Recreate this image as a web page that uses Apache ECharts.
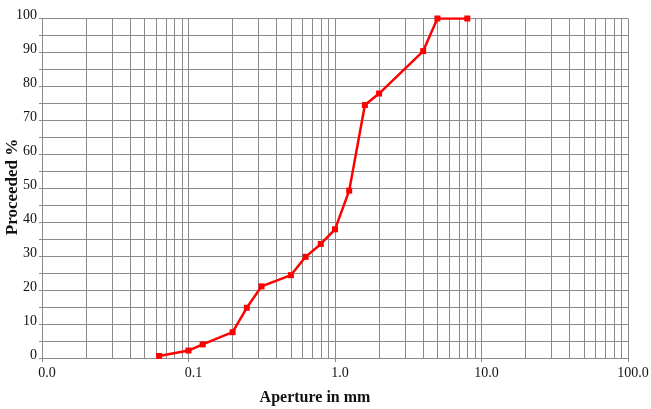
<!DOCTYPE html>
<html>
<head>
<meta charset="utf-8">
<script src="https://cdn.jsdelivr.net/npm/echarts@6/dist/echarts.min.js"></script>
<style>
  html, body { margin: 0; padding: 0; background: #fff; }
  #chart { width: 651px; height: 409px; }
</style>
</head>
<body>
<div id="chart"></div>
<script>
// Sieve apertures (mm) and cumulative percentage passing
const apertures = [0.063, 0.1, 0.125, 0.2, 0.25, 0.315, 0.5, 0.63, 0.8, 1, 1.25, 1.6, 2, 4, 5, 8];
const passing   = [0.6, 2.2, 4.0, 7.6, 14.8, 21.1, 24.4, 29.8, 33.6, 37.9, 49.3, 74.5, 77.9, 90.4, 100, 100];

// Axis titles
const xTitle = 'Aperture in mm';
const yTitle = 'Proceeded %';

// Intermediate log-decade grid positions (2..9 within each decade)
const decades = [0.01, 0.1, 1, 10];
const multipliers = [2, 3, 4, 5, 6, 7, 8, 9];
const minorGrid = [];
decades.forEach(d => multipliers.forEach(m => minorGrid.push(+(d * m).toPrecision(3))));

const serif = '"Liberation Serif", "Times New Roman", serif';
const gridColor = '#8a8a8a';

const chart = echarts.init(document.getElementById('chart'));
chart.setOption({
  animation: false,
  grid: {
    left: 42, right: 23, top: 18.5, bottom: 51,
    containLabel: false,
    outerBoundsMode: 'none'
  },
  graphic: [
    {
      type: 'text', x: 315, y: 398,
      style: { text: xTitle, font: 'bold 16px ' + serif, fill: '#111', align: 'center', verticalAlign: 'middle' }
    },
    {
      type: 'text', x: 13, y: 187, rotation: Math.PI / 2,
      style: { text: yTitle, font: 'bold 17px ' + serif, fill: '#111', align: 'center', verticalAlign: 'middle' }
    }
  ],
  xAxis: {
    type: 'log',
    logBase: 10,
    min: 0.01,
    max: 100,
    axisLine: { lineStyle: { color: gridColor } },
    axisTick: { show: true, length: 4, lineStyle: { color: gridColor } },
    axisLabel: {
      fontFamily: serif, fontSize: 14, color: '#111', margin: 8,
      padding: [0, 0, 0, 10],
      showMaxLabel: true, showMinLabel: true,
      formatter: v => Number(v).toFixed(1)
    },
    splitLine: { show: true, lineStyle: { color: gridColor, width: 1 } }
  },
  yAxis: {
    type: 'value',
    min: 0,
    max: 100,
    interval: 5,
    axisLine: { show: true, lineStyle: { color: gridColor } },
    axisTick: { show: true, length: 3, lineStyle: { color: gridColor } },
    axisLabel: {
      fontFamily: serif, fontSize: 14, color: '#111', margin: 5,
      verticalAlign: 'bottom',
      lineHeight: 6,
      formatter: v => (v % 10 === 0 ? String(v) : '')
    },
    splitLine: { show: true, lineStyle: { color: gridColor, width: 1 } }
  },
  series: [{
    type: 'line',
    data: apertures.map((a, i) => [a, passing[i]]),
    color: '#ff0000',
    lineStyle: { color: '#ff0000', width: 2.5 },
    symbol: 'rect',
    symbolSize: 6,
    itemStyle: { color: '#ff0000' },
    z: 5,
    markLine: {
      silent: true,
      symbol: ['none', 'none'],
      label: { show: false },
      lineStyle: { color: gridColor, width: 1, type: 'solid' },
      data: minorGrid.map(x => ({ xAxis: x }))
    }
  }]
});
</script>
</body>
</html>
